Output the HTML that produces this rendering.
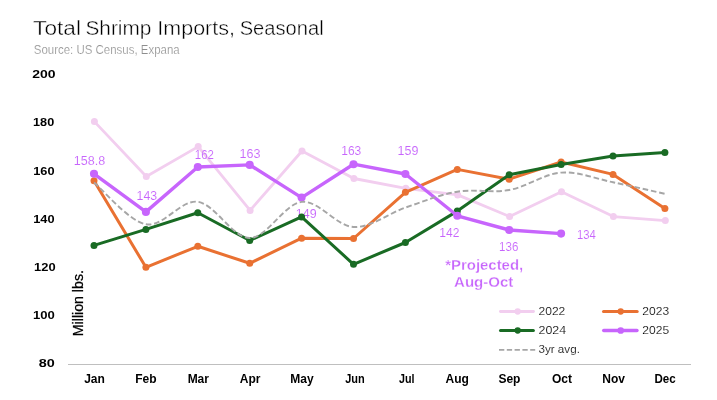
<!DOCTYPE html>
<html><head><meta charset="utf-8"><title>Total Shrimp Imports, Seasonal</title>
<style>
html,body{margin:0;padding:0;background:#fff;}
body{width:717px;height:400px;overflow:hidden;}
svg{display:block;will-change:transform;opacity:0.999;font-family:"Liberation Sans",sans-serif;}
</style></head><body>
<svg width="717" height="400" viewBox="0 0 717 400">
<rect width="717" height="400" fill="#fff"/>
<text x="33.09" y="34.6" font-size="20" fill="#000" font-weight="normal" text-anchor="start" textLength="47.86" lengthAdjust="spacingAndGlyphs" stroke="#fff" stroke-width="0.4">Total</text>
<text x="85.45" y="34.6" font-size="20" fill="#000" font-weight="normal" text-anchor="start" textLength="65.92" lengthAdjust="spacingAndGlyphs" stroke="#fff" stroke-width="0.4">Shrimp</text>
<text x="157.33" y="34.6" font-size="20" fill="#000" font-weight="normal" text-anchor="start" textLength="77.63" lengthAdjust="spacingAndGlyphs" stroke="#fff" stroke-width="0.4">Imports,</text>
<text x="239.7" y="34.6" font-size="20" fill="#000" font-weight="normal" text-anchor="start" textLength="83.94" lengthAdjust="spacingAndGlyphs" stroke="#fff" stroke-width="0.4">Seasonal</text>
<text x="33.8" y="53.9" font-size="12" fill="#8e8e8e" font-weight="normal" text-anchor="start" textLength="145.9" lengthAdjust="spacingAndGlyphs" stroke="#fff" stroke-width="0.2">Source: US Census, Expana</text>
<text x="55.6" y="78.1" font-size="11" fill="#000" font-weight="bold" text-anchor="end" textLength="23.3" lengthAdjust="spacingAndGlyphs">200</text>
<text x="54.2" y="126.3" font-size="11" fill="#000" font-weight="bold" text-anchor="end" textLength="21.1" lengthAdjust="spacingAndGlyphs">180</text>
<text x="54.5" y="174.7" font-size="11" fill="#000" font-weight="bold" text-anchor="end" textLength="21.3" lengthAdjust="spacingAndGlyphs">160</text>
<text x="54.5" y="222.8" font-size="11" fill="#000" font-weight="bold" text-anchor="end" textLength="21.3" lengthAdjust="spacingAndGlyphs">140</text>
<text x="55.6" y="270.9" font-size="11" fill="#000" font-weight="bold" text-anchor="end" textLength="21.5" lengthAdjust="spacingAndGlyphs">120</text>
<text x="54.9" y="319.1" font-size="11" fill="#000" font-weight="bold" text-anchor="end" textLength="21.8" lengthAdjust="spacingAndGlyphs">100</text>
<text x="54.7" y="366.8" font-size="11" fill="#000" font-weight="bold" text-anchor="end" textLength="16.0" lengthAdjust="spacingAndGlyphs">80</text>
<line x1="68" y1="364.5" x2="691" y2="364.5" stroke="#BFBFBF" stroke-width="1"/>
<text x="94.5" y="383.1" font-size="12" fill="#000" font-weight="bold" text-anchor="middle">Jan</text>
<text x="145.8" y="383.1" font-size="12" fill="#000" font-weight="bold" text-anchor="middle">Feb</text>
<text x="198.3" y="383.1" font-size="12" fill="#000" font-weight="bold" text-anchor="middle">Mar</text>
<text x="250.1" y="383.1" font-size="12" fill="#000" font-weight="bold" text-anchor="middle">Apr</text>
<text x="301.9" y="383.1" font-size="12" fill="#000" font-weight="bold" text-anchor="middle">May</text>
<text x="355.0" y="383.1" font-size="12" fill="#000" font-weight="bold" text-anchor="middle" textLength="19.5" lengthAdjust="spacingAndGlyphs">Jun</text>
<text x="406.75" y="383.1" font-size="12" fill="#000" font-weight="bold" text-anchor="middle" textLength="15.5" lengthAdjust="spacingAndGlyphs">Jul</text>
<text x="457.2" y="383.1" font-size="12" fill="#000" font-weight="bold" text-anchor="middle">Aug</text>
<text x="509.4" y="383.1" font-size="12" fill="#000" font-weight="bold" text-anchor="middle">Sep</text>
<text x="562.0" y="383.1" font-size="12" fill="#000" font-weight="bold" text-anchor="middle">Oct</text>
<text x="613.7" y="383.1" font-size="12" fill="#000" font-weight="bold" text-anchor="middle">Nov</text>
<text x="665.0" y="383.1" font-size="12" fill="#000" font-weight="bold" text-anchor="middle" textLength="21.2" lengthAdjust="spacingAndGlyphs">Dec</text>
<text transform="translate(82.8,336.2) rotate(-90)" font-size="14.5" fill="#000" stroke="#000" stroke-width="0.25" textLength="66.1" lengthAdjust="spacingAndGlyphs">Million lbs.</text>
<polyline points="94.4,121.6 146.3,176.5 198.2,146.6 250.1,210.4 302.0,151.0 353.9,178.5 405.8,188.3 457.7,194.9 509.6,216.5 561.5,191.7 613.4,216.6 665.3,220.6" fill="none" stroke="#F2CEEF" stroke-width="2.8" stroke-linejoin="round" stroke-linecap="round"/>
<circle cx="94.4" cy="121.6" r="3.5" fill="#F2CEEF"/>
<circle cx="146.3" cy="176.5" r="3.5" fill="#F2CEEF"/>
<circle cx="198.2" cy="146.6" r="3.5" fill="#F2CEEF"/>
<circle cx="250.1" cy="210.4" r="3.5" fill="#F2CEEF"/>
<circle cx="302.0" cy="151.0" r="3.5" fill="#F2CEEF"/>
<circle cx="353.9" cy="178.5" r="3.5" fill="#F2CEEF"/>
<circle cx="405.8" cy="188.3" r="3.5" fill="#F2CEEF"/>
<circle cx="457.7" cy="194.9" r="3.5" fill="#F2CEEF"/>
<circle cx="509.6" cy="216.5" r="3.5" fill="#F2CEEF"/>
<circle cx="561.5" cy="191.7" r="3.5" fill="#F2CEEF"/>
<circle cx="613.4" cy="216.6" r="3.5" fill="#F2CEEF"/>
<circle cx="665.3" cy="220.6" r="3.5" fill="#F2CEEF"/>
<polyline points="94.0,180.7 145.9,267.3 197.8,246.3 249.7,263.3 301.6,238.2 353.5,238.5 405.4,192.3 457.3,169.4 509.2,179.2 561.1,162.0 613.0,174.4 664.9,208.6" fill="none" stroke="#E97132" stroke-width="3.0" stroke-linejoin="round" stroke-linecap="round"/>
<circle cx="94.0" cy="180.7" r="3.5" fill="#E97132"/>
<circle cx="145.9" cy="267.3" r="3.5" fill="#E97132"/>
<circle cx="197.8" cy="246.3" r="3.5" fill="#E97132"/>
<circle cx="249.7" cy="263.3" r="3.5" fill="#E97132"/>
<circle cx="301.6" cy="238.2" r="3.5" fill="#E97132"/>
<circle cx="353.5" cy="238.5" r="3.5" fill="#E97132"/>
<circle cx="405.4" cy="192.3" r="3.5" fill="#E97132"/>
<circle cx="457.3" cy="169.4" r="3.5" fill="#E97132"/>
<circle cx="509.2" cy="179.2" r="3.5" fill="#E97132"/>
<circle cx="561.1" cy="162.0" r="3.5" fill="#E97132"/>
<circle cx="613.0" cy="174.4" r="3.5" fill="#E97132"/>
<circle cx="664.9" cy="208.6" r="3.5" fill="#E97132"/>
<text x="73.8" y="165.3" font-size="12" fill="#C765FC" font-weight="normal" text-anchor="start" textLength="31.4" lengthAdjust="spacingAndGlyphs" stroke="#fff" stroke-width="0.1">158.8</text>
<text x="136.6" y="200.0" font-size="12" fill="#C765FC" font-weight="normal" text-anchor="start" textLength="20.6" lengthAdjust="spacingAndGlyphs" stroke="#fff" stroke-width="0.1">143</text>
<text x="194.8" y="159.0" font-size="12" fill="#C765FC" font-weight="normal" text-anchor="start" textLength="19.1" lengthAdjust="spacingAndGlyphs" stroke="#fff" stroke-width="0.1">162</text>
<text x="239.5" y="157.7" font-size="12" fill="#C765FC" font-weight="normal" text-anchor="start" textLength="21" lengthAdjust="spacingAndGlyphs" stroke="#fff" stroke-width="0.1">163</text>
<text x="295.8" y="218.1" font-size="12" fill="#C765FC" font-weight="normal" text-anchor="start" textLength="20.8" lengthAdjust="spacingAndGlyphs" stroke="#fff" stroke-width="0.1">149</text>
<text x="341.2" y="154.6" font-size="12" fill="#C765FC" font-weight="normal" text-anchor="start" textLength="20.1" lengthAdjust="spacingAndGlyphs" stroke="#fff" stroke-width="0.1">163</text>
<text x="397.5" y="155.1" font-size="12" fill="#C765FC" font-weight="normal" text-anchor="start" textLength="20.9" lengthAdjust="spacingAndGlyphs" stroke="#fff" stroke-width="0.1">159</text>
<text x="439.3" y="237.2" font-size="12" fill="#C765FC" font-weight="normal" text-anchor="start" textLength="20.1" lengthAdjust="spacingAndGlyphs" stroke="#fff" stroke-width="0.1">142</text>
<text x="499.1" y="251.0" font-size="12" fill="#C765FC" font-weight="normal" text-anchor="start" textLength="19.3" lengthAdjust="spacingAndGlyphs" stroke="#fff" stroke-width="0.1">136</text>
<text x="576.9" y="238.9" font-size="12" fill="#C765FC" font-weight="normal" text-anchor="start" textLength="18.8" lengthAdjust="spacingAndGlyphs" stroke="#fff" stroke-width="0.1">134</text>
<polyline points="94.0,245.4 145.9,229.4 197.8,212.8 249.7,240.5 301.6,216.9 353.5,264.3 405.4,242.5 457.3,211.1 509.2,174.7 561.1,164.5 613.0,156.1 664.9,152.6" fill="none" stroke="#196B24" stroke-width="3.0" stroke-linejoin="round" stroke-linecap="round"/>
<circle cx="94.0" cy="245.4" r="3.5" fill="#196B24"/>
<circle cx="145.9" cy="229.4" r="3.5" fill="#196B24"/>
<circle cx="197.8" cy="212.8" r="3.5" fill="#196B24"/>
<circle cx="249.7" cy="240.5" r="3.5" fill="#196B24"/>
<circle cx="301.6" cy="216.9" r="3.5" fill="#196B24"/>
<circle cx="353.5" cy="264.3" r="3.5" fill="#196B24"/>
<circle cx="405.4" cy="242.5" r="3.5" fill="#196B24"/>
<circle cx="457.3" cy="211.1" r="3.5" fill="#196B24"/>
<circle cx="509.2" cy="174.7" r="3.5" fill="#196B24"/>
<circle cx="561.1" cy="164.5" r="3.5" fill="#196B24"/>
<circle cx="613.0" cy="156.1" r="3.5" fill="#196B24"/>
<circle cx="664.9" cy="152.6" r="3.5" fill="#196B24"/>
<polyline points="94.0,173.8 145.9,211.9 197.8,167.0 249.7,164.9 301.6,197.6 353.5,164.2 405.4,174.0 457.3,215.8 509.2,230.0 561.1,233.6" fill="none" stroke="#C765FC" stroke-width="3.4" stroke-linejoin="round" stroke-linecap="round"/>
<circle cx="94.0" cy="173.8" r="4.05" fill="#C765FC"/>
<circle cx="145.9" cy="211.9" r="4.05" fill="#C765FC"/>
<circle cx="197.8" cy="167.0" r="4.05" fill="#C765FC"/>
<circle cx="249.7" cy="164.9" r="4.05" fill="#C765FC"/>
<circle cx="301.6" cy="197.6" r="4.05" fill="#C765FC"/>
<circle cx="353.5" cy="164.2" r="4.05" fill="#C765FC"/>
<circle cx="405.4" cy="174.0" r="4.05" fill="#C765FC"/>
<circle cx="457.3" cy="215.8" r="4.05" fill="#C765FC"/>
<circle cx="509.2" cy="230.0" r="4.05" fill="#C765FC"/>
<circle cx="561.1" cy="233.6" r="4.05" fill="#C765FC"/>
<path d="M94.0,182.5 C102.7,189.4 128.6,221.1 145.9,224.3 C163.2,227.5 180.5,199.5 197.8,201.8 C215.1,204.1 232.4,237.9 249.7,238.0 C267.0,238.0 284.3,203.8 301.6,201.9 C318.9,200.1 336.2,226.1 353.5,227.0 C370.8,227.9 388.1,213.5 405.4,207.6 C422.7,201.7 440.0,194.6 457.3,191.7 C474.6,188.8 491.9,193.2 509.2,190.0 C526.5,186.9 543.8,173.9 561.1,172.6 C578.4,171.3 595.7,178.7 613.0,182.3 C630.3,185.8 656.2,191.9 664.9,193.8" fill="none" stroke="#A6A6A6" stroke-width="1.9" stroke-dasharray="5.6 2.8"/>
<text x="484.2" y="269.8" font-size="14" fill="#C765FC" font-weight="bold" text-anchor="middle" textLength="78" lengthAdjust="spacingAndGlyphs" stroke="#fff" stroke-width="0.28">*Projected,</text>
<text x="483.7" y="286.6" font-size="14" fill="#C765FC" font-weight="bold" text-anchor="middle" textLength="59.3" lengthAdjust="spacingAndGlyphs" stroke="#fff" stroke-width="0.28">Aug-Oct</text>
<line x1="500.40" y1="311.5" x2="533.50" y2="311.5" stroke="#F2CEEF" stroke-width="2.8" stroke-linecap="round"/>
<circle cx="517.7" cy="311.5" r="3.15" fill="#F2CEEF"/>
<text x="538.5" y="315.4" font-size="11" fill="#000" font-weight="normal" text-anchor="start" textLength="26.8" lengthAdjust="spacingAndGlyphs" stroke="#fff" stroke-width="0.15">2022</text>
<line x1="603.50" y1="311.5" x2="637.20" y2="311.5" stroke="#E97132" stroke-width="3.0" stroke-linecap="round"/>
<circle cx="620.7" cy="311.5" r="3.15" fill="#E97132"/>
<text x="642.3000000000001" y="315.4" font-size="11" fill="#000" font-weight="normal" text-anchor="start" textLength="26.8" lengthAdjust="spacingAndGlyphs" stroke="#fff" stroke-width="0.15">2023</text>
<line x1="500.50" y1="330.5" x2="533.40" y2="330.5" stroke="#196B24" stroke-width="3.0" stroke-linecap="round"/>
<circle cx="517.7" cy="330.5" r="3.15" fill="#196B24"/>
<text x="538.5" y="334.4" font-size="11" fill="#000" font-weight="normal" text-anchor="start" textLength="27.7" lengthAdjust="spacingAndGlyphs" stroke="#fff" stroke-width="0.15">2024</text>
<line x1="603.70" y1="330.5" x2="637.00" y2="330.5" stroke="#C765FC" stroke-width="3.4" stroke-linecap="round"/>
<circle cx="620.7" cy="330.5" r="3.35" fill="#C765FC"/>
<text x="642.3000000000001" y="334.4" font-size="11" fill="#000" font-weight="normal" text-anchor="start" textLength="26.8" lengthAdjust="spacingAndGlyphs" stroke="#fff" stroke-width="0.15">2025</text>
<line x1="499.0" y1="349.9" x2="535.2" y2="349.9" stroke="#A6A6A6" stroke-width="1.8" stroke-dasharray="5.3 2.5"/>
<text x="538.4" y="352.9" font-size="11" fill="#000" font-weight="normal" text-anchor="start" textLength="41.5" lengthAdjust="spacingAndGlyphs" stroke="#fff" stroke-width="0.15">3yr avg.</text>
</svg>
</body></html>
